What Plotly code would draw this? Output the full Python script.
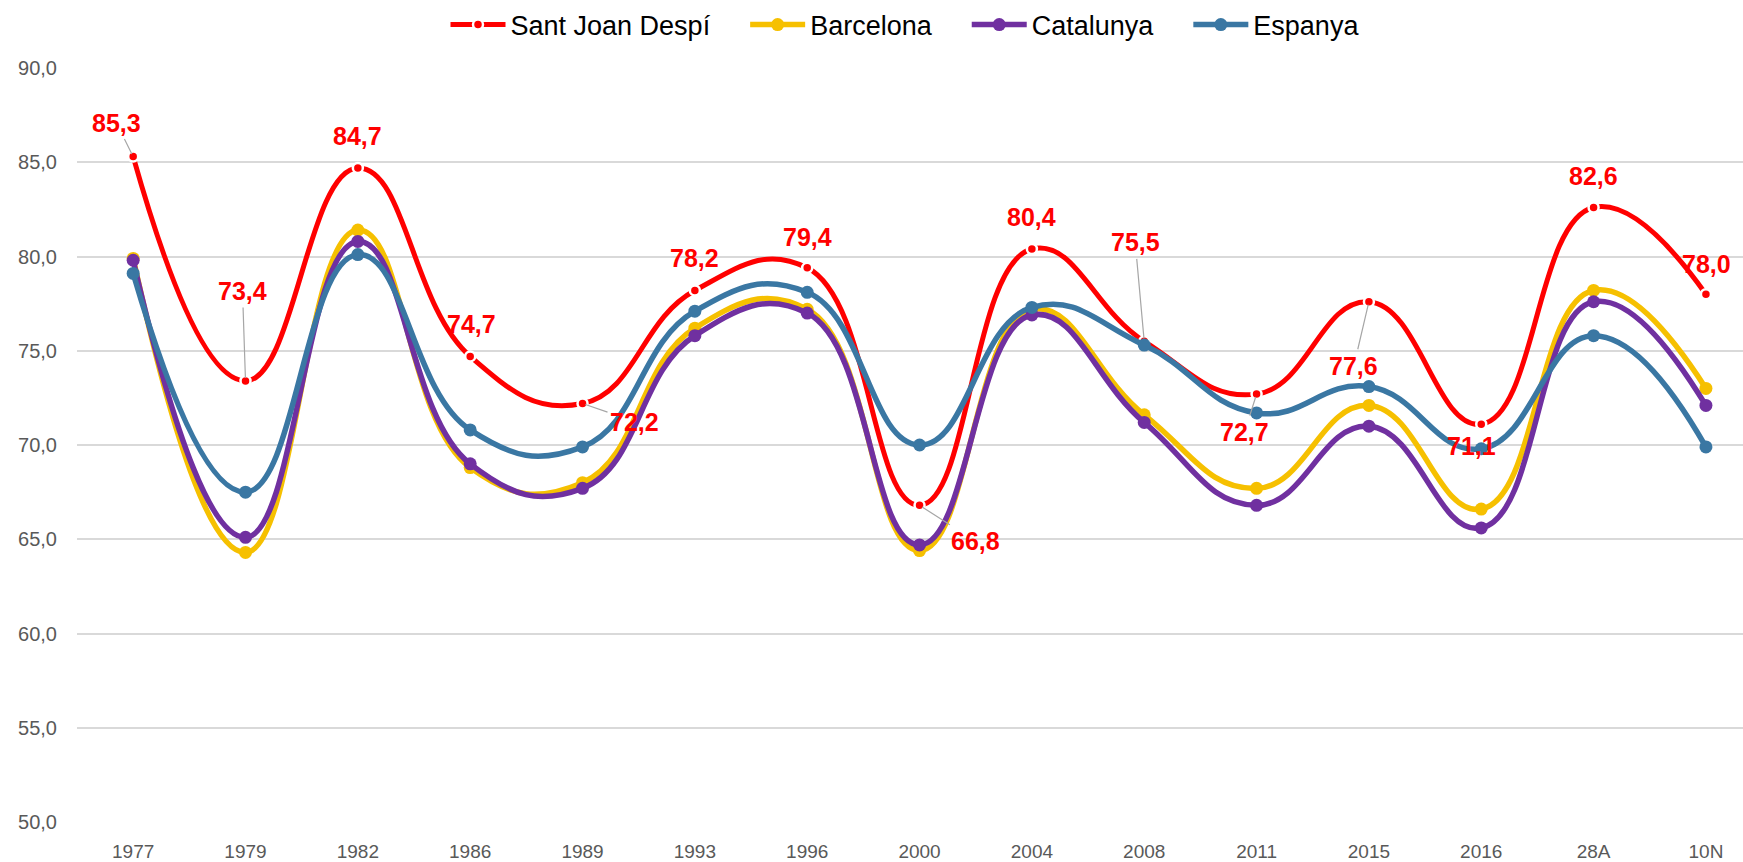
import plotly.graph_objects as go

categories = ["1977", "1979", "1982", "1986", "1989", "1993", "1996", "2000",
              "2004", "2008", "2011", "2015", "2016", "28A", "10N"]
sant_joan = [85.3, 73.4, 84.7, 74.7, 72.2, 78.2, 79.4, 66.8, 80.4, 75.5, 72.7, 77.6, 71.1, 82.6, 78.0]
barcelona = [79.9, 64.3, 81.4, 68.8, 68.0, 76.2, 77.2, 64.4, 77.2, 71.6, 67.7, 72.1, 66.6, 78.2, 73.0]
catalunya = [79.8, 65.1, 80.8, 69.0, 67.7, 75.8, 77.0, 64.7, 76.9, 71.2, 66.8, 71.0, 65.6, 77.6, 72.1]
espanya = [79.1, 67.5, 80.1, 70.8, 69.9, 77.1, 78.1, 70.0, 77.3, 75.3, 71.7, 73.1, 69.8, 75.8, 69.9]
ytick_vals = [50, 55, 60, 65, 70, 75, 80, 85, 90]
ytick_text = ["50,0", "55,0", "60,0", "65,0", "70,0", "75,0", "80,0", "85,0", "90,0"]

# label offsets (px) and whether a leader line is drawn
label_offsets = [(-17, -34, True), (-3, -90, True), (0, -32, False), (1, -32, False),
                 (52, 18, True), (0, -32, False), (0, -31, False), (56, 36, True),
                 (0, -32, False), (-9, -99, True), (-12, 38, True), (-15, 64, True),
                 (-10, 22, False), (0, -31, False), (1, -30, False)]

RED = "#FF0000"
YELLOW = "#F6C000"
PURPLE = "#7030A0"
BLUE = "#3A77A3"
NB = "\u00a0" * 4

fig = go.Figure()
fig.add_trace(go.Scatter(
    x=categories, y=sant_joan, name="Sant Joan Despí" + NB, mode="lines+markers",
    line=dict(color=RED, width=5, shape="spline", smoothing=1.3),
    marker=dict(color=RED, size=10, line=dict(color="white", width=2.5))))
for name, vals, col, suffix in [("Barcelona", barcelona, YELLOW, NB),
                                ("Catalunya", catalunya, PURPLE, NB),
                                ("Espanya", espanya, BLUE, "")]:
    fig.add_trace(go.Scatter(
        x=categories, y=vals, name=name + suffix, mode="lines+markers",
        line=dict(color=col, width=5.5, shape="spline", smoothing=1.3),
        marker=dict(color=col, size=13)))

for i, (v, (ax, ay, lead)) in enumerate(zip(sant_joan, label_offsets)):
    fig.add_annotation(
        x=i, y=v, text="<b>" + f"{v:.1f}".replace(".", ",") + "</b>", showarrow=True,
        ax=ax, ay=ay, arrowhead=0, arrowwidth=1.2, standoff=3,
        arrowcolor="#A6A6A6" if lead else "rgba(0,0,0,0)",
        font=dict(family="Liberation Sans, Arial, sans-serif", size=25, color=RED),
        borderpad=2)

tick_font = dict(family="Liberation Sans, Arial, sans-serif", size=19, color="#595959")
fig.update_layout(
    width=1743, height=862,
    margin=dict(l=77, r=0, t=68, b=40),
    plot_bgcolor="white", paper_bgcolor="white",
    showlegend=True,
    legend=dict(orientation="h", x=0.497, xanchor="center", yref="container",
                y=1 - 25 / 862, yanchor="middle",
                font=dict(family="Liberation Sans, Arial, sans-serif", size=27, color="#000000"),
                itemwidth=55, tracegroupgap=0),
    xaxis=dict(type="category", range=[-0.5, 14.33], showgrid=False, showline=False,
               zeroline=False, tickfont=tick_font, ticks="", ticklabelstandoff=16),
    yaxis=dict(range=[50, 90], tickvals=ytick_vals, ticktext=ytick_text,
               showgrid=True, gridcolor="#D9D9D9", gridwidth=1.5, zeroline=False,
               showline=False, tickfont=dict(tick_font, size=20), ticks="",
               ticklabelstandoff=19),
)
fig.write_html("out.html", config={"displayModeBar": False},
               post_script="document.body.style.margin='0';document.body.style.padding='0';")
